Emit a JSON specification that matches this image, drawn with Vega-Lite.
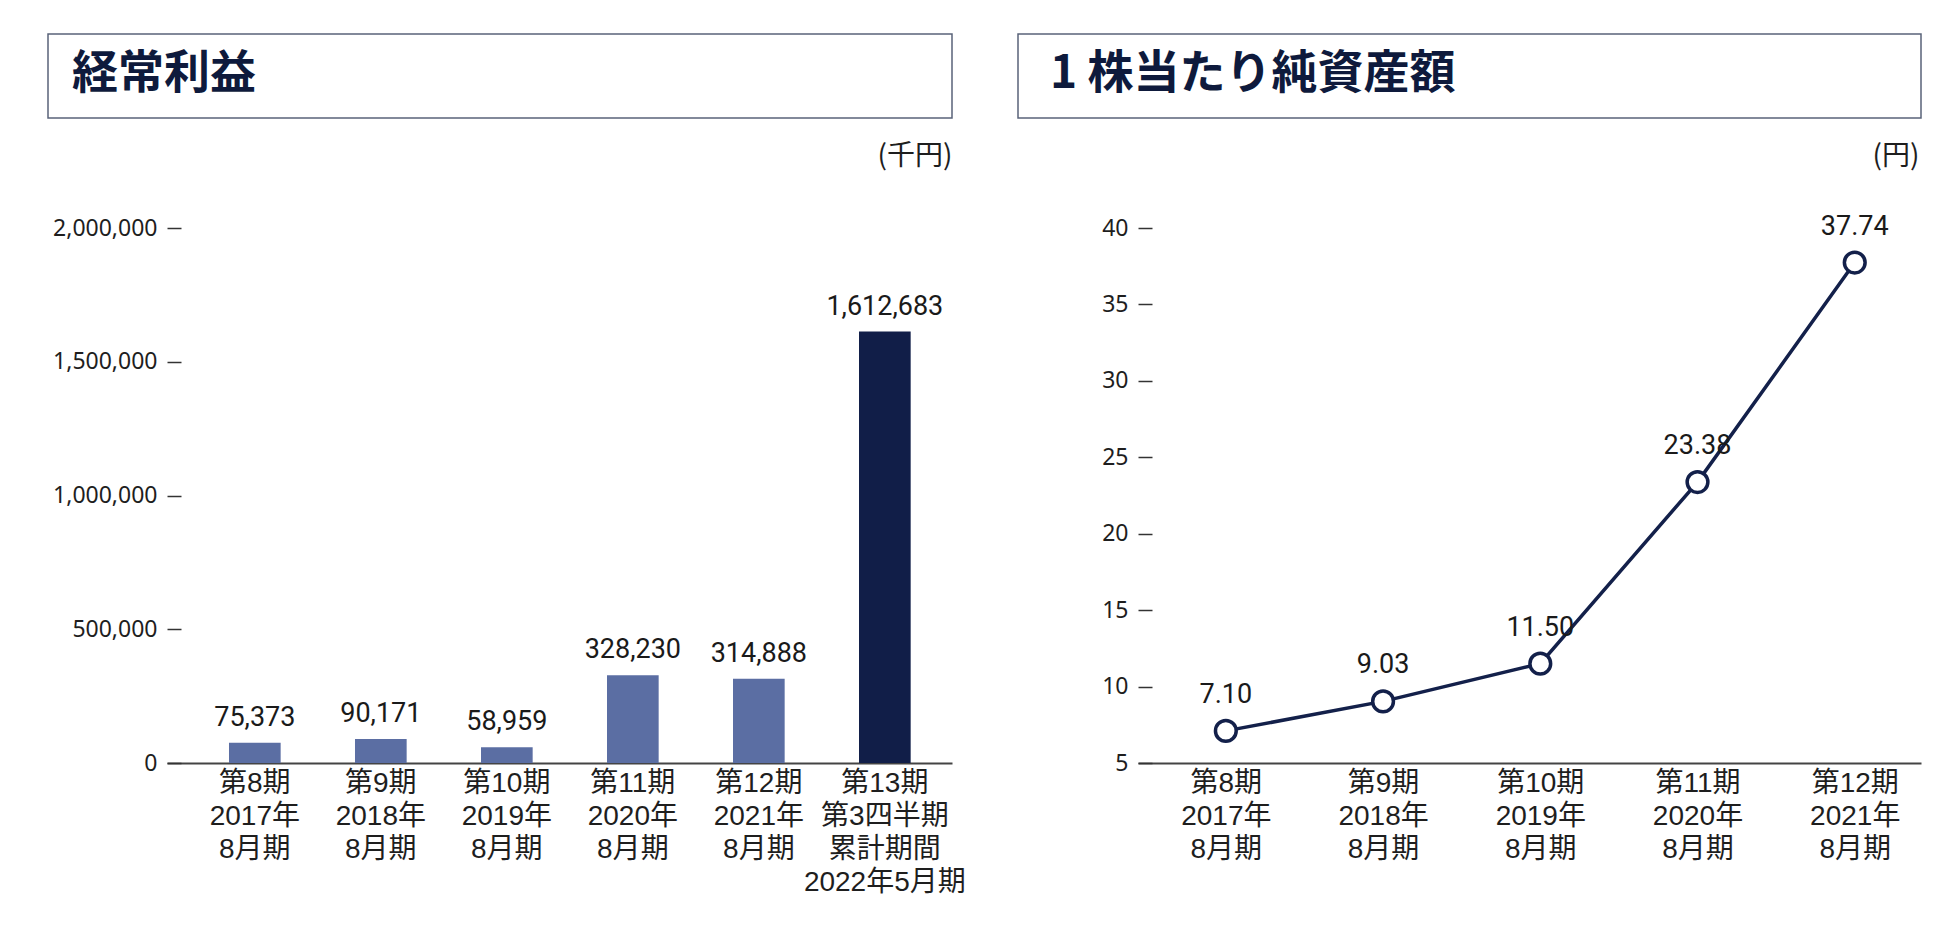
{
  "$schema": "https://vega.github.io/schema/vega-lite/v6.json",
  "background": "white",
  "padding": {"left": 47, "top": 33, "right": 0, "bottom": 24},
  "bounds": "flush",
  "columns": 2,
  "spacing": {"row": 110, "column": 66},
  "config": {
    "view": {"stroke": null},
    "font": "Noto Sans CJK JP",
    "axis": {"grid": false, "labelColor": "#1e1e1e", "titleColor": "#1e1e1e"}
  },
  "concat": [
    {
      "width": 904,
      "height": 84,
      "view": {"stroke": "#596379", "strokeWidth": 1.5},
      "title": {
        "text": "経常利益",
        "frame": "group",
        "anchor": "start",
        "orient": "top",
        "offset": -64,
        "dx": 24,
        "fontSize": 46,
        "fontWeight": "bold",
        "font": "Noto Sans CJK JP",
        "color": "#0e1a3c"
      },
      "data": {"values": [{}]},
      "mark": {"type": "text"},
      "encoding": {"text": {"value": ""}}
    },
    {
      "width": 903,
      "height": 84,
      "view": {"stroke": "#596379", "strokeWidth": 1.5},
      "title": {
        "text": "1 株当たり純資産額",
        "frame": "group",
        "anchor": "start",
        "orient": "top",
        "offset": -64,
        "dx": 32,
        "fontSize": 46,
        "fontWeight": "bold",
        "font": "Noto Sans CJK JP",
        "color": "#0e1a3c"
      },
      "data": {"values": [{}]},
      "mark": {"type": "text"},
      "encoding": {"text": {"value": ""}}
    },
    {
      "width": 904,
      "height": 535,
      "data": {
        "values": [
          {"period": "第8期\n2017年\n8月期", "value": 75373, "kind": "通期"},
          {"period": "第9期\n2018年\n8月期", "value": 90171, "kind": "通期"},
          {"period": "第10期\n2019年\n8月期", "value": 58959, "kind": "通期"},
          {"period": "第11期\n2020年\n8月期", "value": 328230, "kind": "通期"},
          {"period": "第12期\n2021年\n8月期", "value": 314888, "kind": "通期"},
          {"period": "第13期\n第3四半期\n累計期間\n2022年5月期", "value": 1612683, "kind": "累計"}
        ]
      },
      "encoding": {
        "x": {
          "field": "period",
          "type": "nominal",
          "sort": null,
          "scale": {"range": [119, 904], "paddingInner": 0.59, "paddingOuter": 0.41, "align": 0.6},
          "axis": {
            "title": null,
            "labelAngle": 0,
            "labelExpr": "split(datum.value, '\\n')",
            "labelFont": "Liberation Sans, Noto Sans CJK JP",
            "labelFontSize": 28,
            "labelLineHeight": 33,
            "labelBaseline": "top",
            "labelPadding": 6,
            "ticks": false,
            "domainColor": "#444444",
            "domainWidth": 2.2
          }
        },
        "y": {
          "field": "value",
          "type": "quantitative",
          "scale": {"domain": [0, 2000000]},
          "axis": {
            "values": [0, 500000, 1000000, 1500000, 2000000],
            "format": ",.0f",
            "offset": -133,
            "tickSize": 14,
            "tickColor": "#333333",
            "tickWidth": 1.5,
            "domain": false,
            "labelFlush": false,
            "labelPadding": 10,
            "labelFont": "Noto Sans",
            "labelFontSize": 23,
            "title": "(千円)",
            "titleAngle": 0,
            "titleX": 771,
            "titleY": -72,
            "titleAlign": "right",
            "titleBaseline": "middle",
            "titleFont": "Noto Sans CJK JP",
            "titleFontSize": 28,
            "titleFontWeight": "normal"
          }
        }
      },
      "layer": [
        {
          "mark": {"type": "bar"},
          "encoding": {
            "color": {
              "field": "kind",
              "type": "nominal",
              "scale": {"domain": ["通期", "累計"], "range": ["#5b6ea3", "#111e48"]},
              "legend": null
            }
          }
        },
        {
          "mark": {
            "type": "text",
            "baseline": "alphabetic",
            "dy": -17,
            "font": "Roboto",
            "fontSize": 27,
            "color": "#1a1a1a"
          },
          "encoding": {"text": {"field": "value", "type": "quantitative", "format": ","}}
        }
      ]
    },
    {
      "width": 903,
      "height": 535,
      "data": {
        "values": [
          {"period": "第8期\n2017年\n8月期", "value": 7.10},
          {"period": "第9期\n2018年\n8月期", "value": 9.03},
          {"period": "第10期\n2019年\n8月期", "value": 11.50},
          {"period": "第11期\n2020年\n8月期", "value": 23.38},
          {"period": "第12期\n2021年\n8月期", "value": 37.74}
        ]
      },
      "encoding": {
        "x": {
          "field": "period",
          "type": "nominal",
          "sort": null,
          "scale": {"type": "point", "range": [120, 903], "padding": 0.49, "align": 0.57},
          "axis": {
            "title": null,
            "labelAngle": 0,
            "labelExpr": "split(datum.value, '\\n')",
            "labelFont": "Liberation Sans, Noto Sans CJK JP",
            "labelFontSize": 28,
            "labelLineHeight": 33,
            "labelBaseline": "top",
            "labelPadding": 6,
            "ticks": false,
            "domainColor": "#444444",
            "domainWidth": 2.2
          }
        },
        "y": {
          "field": "value",
          "type": "quantitative",
          "scale": {"domain": [5, 40], "zero": false},
          "axis": {
            "values": [5, 10, 15, 20, 25, 30, 35, 40],
            "format": "d",
            "offset": -134,
            "tickSize": 14,
            "tickColor": "#333333",
            "tickWidth": 1.5,
            "domain": false,
            "labelFlush": false,
            "labelPadding": 10,
            "labelFont": "Noto Sans",
            "labelFontSize": 23,
            "title": "(円)",
            "titleAngle": 0,
            "titleX": 767,
            "titleY": -72,
            "titleAlign": "right",
            "titleBaseline": "middle",
            "titleFont": "Noto Sans CJK JP",
            "titleFontSize": 28,
            "titleFontWeight": "normal"
          }
        }
      },
      "layer": [
        {"mark": {"type": "line", "color": "#13204a", "strokeWidth": 3.5}},
        {
          "mark": {
            "type": "point",
            "filled": true,
            "fill": "white",
            "stroke": "#13204a",
            "strokeWidth": 3.5,
            "size": 430,
            "opacity": 1
          }
        },
        {
          "mark": {
            "type": "text",
            "baseline": "alphabetic",
            "dy": -28,
            "font": "Roboto",
            "fontSize": 27,
            "color": "#1a1a1a"
          },
          "encoding": {"text": {"field": "value", "type": "quantitative", "format": ".2f"}}
        }
      ]
    }
  ]
}
